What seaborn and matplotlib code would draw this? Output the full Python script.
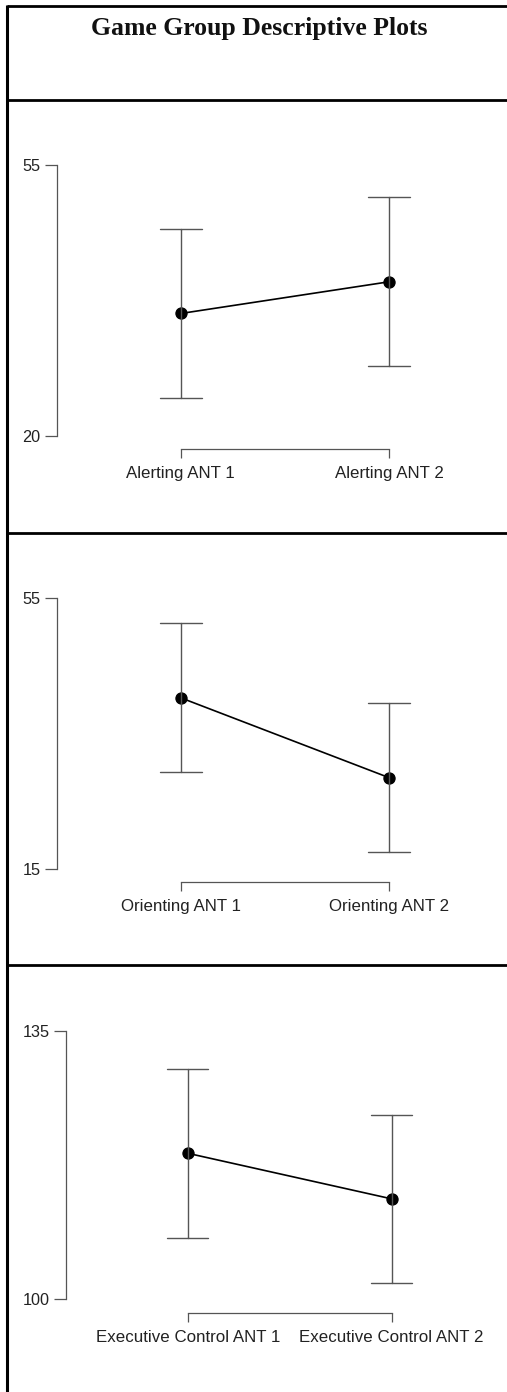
import numpy as np
import pandas as pd
import matplotlib.pyplot as plt
import seaborn as sns

sns.set_theme(style="white")
plt.rcParams['font.family'] = ['Liberation Sans', 'DejaVu Sans']

# data
title = "Game Group Descriptive Plots"

alert_labels = ["Alerting ANT 1", "Alerting ANT 2"]
alert_means = [35.8, 39.9]
alert_ci = [10.95, 10.95]
alert_ticks = [20, 55]

orient_labels = ["Orienting ANT 1", "Orienting ANT 2"]
orient_means = [40.3, 28.5]
orient_ci = [11.0, 11.0]
orient_ticks = [15, 55]

exec_labels = ["Executive Control ANT 1", "Executive Control ANT 2"]
exec_means = [119.05, 113.1]
exec_ci = [11.0, 11.0]
exec_ticks = [100, 135]

W, H = 507, 1392
AXIS_GREY = "#555555"

fig = plt.figure(figsize=(W / 100, H / 100), dpi=100)

# table frame in pixel coordinates
bg = fig.add_axes([0, 0, 1, 1])
bg.set_xlim(0, W)
bg.set_ylim(H, 0)
bg.axis("off")
bg.plot([6.5, 6.5], [5, H], color="black", lw=2.2, solid_capstyle="butt")
for y in [6, 100, 532.7, 965]:
    bg.plot([6.5, W], [y, y], color="black", lw=2.0, solid_capstyle="butt")
bg.text(259.5, 35, title, ha="center", va="baseline", fontsize=18.5,
        fontweight="bold", color="#111111",
        family=["Liberation Serif", "DejaVu Serif"])


def draw_panel(labels, means, ci, ticks, box):
    # box: y of top tick, y of bottom tick, y of x-axis, x of y-axis, x of both categories (pixels)
    y_top, y_bot, y_axis, x_spine, x0, x1 = box
    x_right = 490
    ax = fig.add_axes([x_spine / W, 1 - y_axis / H,
                       (x_right - x_spine) / W, (y_axis - y_top) / H])
    ax.patch.set_alpha(0)

    df = pd.DataFrame({
        "cond": np.repeat(labels, 2),
        "value": [m + s * c for m, c in zip(means, ci) for s in (-1, 1)],
    })
    sns.pointplot(data=df, x="cond", y="value", order=labels, estimator="mean",
                  errorbar=lambda v: (v.min(), v.max()), capsize=0.2,
                  color="black", markersize=8, linewidth=1.2,
                  err_kws={"color": AXIS_GREY, "linewidth": 1.0}, ax=ax)

    per_cat = x1 - x0
    ax.set_xlim(-(x0 - x_spine) / per_cat, (x_right - x0) / per_cat)
    per_unit = (y_bot - y_top) / (ticks[1] - ticks[0])
    ax.set_ylim(ticks[0] - (y_axis - y_bot) / per_unit, ticks[1])
    ax.set_yticks(ticks)

    for s in ["top", "right"]:
        ax.spines[s].set_visible(False)
    ax.spines["left"].set_bounds(ticks[0], ticks[1])
    ax.spines["bottom"].set_bounds(0, 1)
    for s in ["left", "bottom"]:
        ax.spines[s].set_color(AXIS_GREY)
        ax.spines[s].set_linewidth(0.9)

    ax.tick_params(axis="y", left=True, direction="out", length=8.5, width=0.9,
                   color=AXIS_GREY, labelcolor="#222222", labelsize=11.7, pad=3)
    ax.tick_params(axis="x", bottom=True, direction="out", length=6.3, width=0.9,
                   color=AXIS_GREY, labelcolor="#222222", labelsize=12.2, pad=5.5)
    ax.set_xlabel("")
    ax.set_ylabel("")
    ax.grid(False)
    return ax


draw_panel(alert_labels, alert_means, alert_ci, alert_ticks,
           (165, 435.7, 449.3, 56.7, 180.7, 389))
draw_panel(orient_labels, orient_means, orient_ci, orient_ticks,
           (598.3, 869, 882.3, 56.7, 180.7, 389))
draw_panel(exec_labels, exec_means, exec_ci, exec_ticks,
           (1031, 1299.3, 1313.3, 66, 187.7, 391.7))

fig.savefig("out.png", dpi=100)
